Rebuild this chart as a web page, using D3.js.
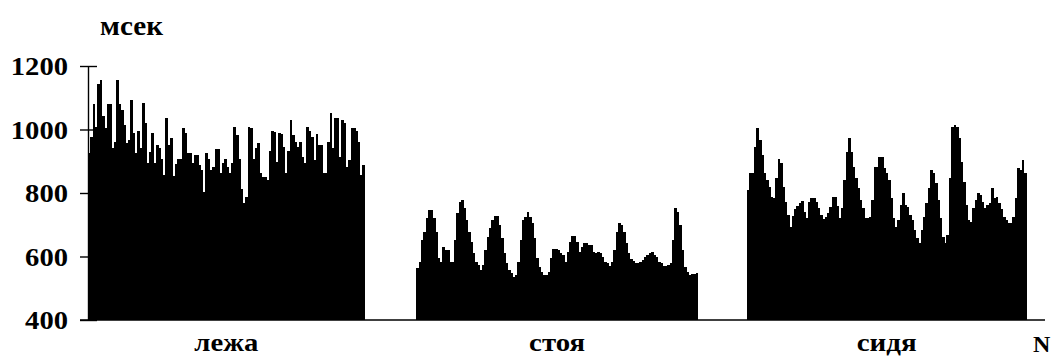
<!DOCTYPE html>
<html>
<head>
<meta charset="utf-8">
<script src="https://cdn.jsdelivr.net/npm/d3@7"></script>
<style>
  html, body { margin: 0; padding: 0; background: #fff; }
  svg { display: block; }
  text { font-family: "Liberation Serif", "Times New Roman", serif; font-weight: bold; fill: #000; }
</style>
</head>
<body>
<svg id="chart" width="1057" height="358"></svg>
<script>
// RR intervals (ms), beat by beat, in three body positions
const lying = [
  925, 977, 1079, 1009, 1142, 1156, 1042, 1004, 1079, 1079,
  941, 962, 1156, 1079, 1061, 1014, 958, 967, 1093, 990,
  925, 996, 941, 1085, 1021, 893, 930, 988, 893, 951,
  941, 906, 857, 1035, 951, 973, 855, 891, 906, 906,
  1004, 990, 927, 927, 893, 920, 920, 888, 872, 804,
  925, 906, 872, 883, 938, 938, 862, 896, 906, 883,
  862, 893, 1009, 983, 906, 812, 767, 788, 1009, 1004,
  906, 941, 958, 862, 849, 849, 841, 932, 996, 993,
  899, 988, 986, 946, 862, 932, 1030, 983, 962, 946,
  962, 914, 893, 1009, 996, 977, 904, 986, 951, 951,
  862, 862, 962, 1053, 941, 1035, 1035, 914, 1030, 1019,
  883, 904, 1004, 1004, 996, 962, 857, 888
];
const standing = [
  563, 584, 652, 678, 720, 746, 746, 720, 678, 594,
  584, 631, 620, 620, 584, 584, 652, 736, 773, 778,
  752, 715, 678, 647, 610, 584, 573, 557, 573, 620,
  662, 689, 715, 728, 728, 699, 657, 610, 578, 557,
  547, 536, 542, 584, 652, 715, 725, 741, 725, 704,
  657, 594, 568, 552, 542, 542, 552, 594, 625, 625,
  620, 610, 604, 584, 615, 647, 665, 665, 647, 615,
  631, 644, 644, 636, 636, 615, 610, 615, 610, 599,
  584, 578, 570, 584, 620, 678, 707, 699, 678, 641,
  610, 591, 586, 580, 580, 584, 589, 597, 604, 610,
  613, 604, 597, 584, 578, 570, 570, 573, 578, 652,
  752, 741, 699, 620, 568, 552, 542, 545, 545, 549
];
const sitting = [
  809, 862, 862, 946, 1004, 967, 920, 862, 841, 820,
  788, 783, 846, 906, 893, 820, 773, 731, 694, 728,
  749, 759, 767, 775, 741, 720, 773, 783, 783, 773,
  752, 731, 717, 725, 736, 757, 786, 786, 759, 720,
  752, 841, 930, 972, 930, 883, 846, 815, 778, 752,
  720, 720, 725, 778, 883, 883, 914, 914, 878, 862,
  841, 783, 720, 694, 715, 762, 799, 762, 757, 731,
  715, 683, 657, 641, 683, 725, 767, 815, 872, 862,
  830, 778, 720, 662, 641, 667, 846, 1009, 1014, 1009,
  972, 899, 836, 762, 715, 710, 752, 778, 799, 794,
  773, 752, 762, 767, 815, 783, 786, 767, 749, 725,
  715, 704, 704, 725, 783, 878, 872, 904, 862
];
const positions = ["лежа", "стоя", "сидя"];
const yTicks = [400, 600, 800, 1000, 1200];
const yUnit = "мсек";
const xUnit = "N";

// empty beat slots between the recordings and after the last one
const gapSlots = [22, 21, 8];

const series = [lying, standing, sitting];
const slots = [];
const groupRanges = [];
series.forEach((vals, g) => {
  const start = slots.length;
  vals.forEach(v => slots.push({ i: slots.length, v }));
  groupRanges.push([start, slots.length - 1]);
  for (let k = 0; k < gapSlots[g]; k++) slots.push({ i: slots.length, v: null });
});

const svg = d3.select("#chart");
const plotLeft = 88, plotRight = 1045, plotTop = 66, plotBottom = 320;

const x = d3.scaleBand()
  .domain(slots.map(d => d.i))
  .range([plotLeft, plotRight])
  .paddingInner(0)
  .paddingOuter(0);

const y = d3.scaleLinear()
  .domain([400, 1200])
  .range([plotBottom, plotTop]);

// y axis with ticks crossing the axis line
const yAxis = svg.append("g")
  .attr("transform", `translate(${plotLeft},0)`)
  .call(d3.axisLeft(y)
    .tickValues(yTicks)
    .tickFormat(d3.format("d"))
    .tickSize(8).tickPadding(12).tickSizeOuter(0));
yAxis.attr("font-family", null).attr("font-size", null);
yAxis.select(".domain").attr("stroke", "#000").attr("stroke-width", 1.4);
yAxis.selectAll(".tick line").attr("stroke", "#000").attr("stroke-width", 1.4);
yAxis.selectAll(".tick").append("line")
  .attr("x1", 0).attr("x2", 9)
  .attr("stroke", "#000").attr("stroke-width", 1.4);
yAxis.selectAll(".tick text")
  .style("font-size", "25px")
  .attr("dy", "0.35em")
  .attr("textLength", d => String(d).length * 14.3)
  .attr("lengthAdjust", "spacingAndGlyphs");

// x axis baseline
svg.append("line")
  .attr("x1", 80).attr("x2", plotRight)
  .attr("y1", y(400)).attr("y2", y(400))
  .attr("stroke", "#000").attr("stroke-width", 1.4);

// bars
svg.append("g")
  .attr("shape-rendering", "crispEdges")
  .selectAll("rect")
  .data(slots.filter(d => d.v !== null))
  .join("rect")
  .attr("x", d => x(d.i))
  .attr("width", x.bandwidth() + 0.4)
  .attr("y", d => y(d.v))
  .attr("height", d => y(400) - y(d.v))
  .attr("fill", "#000");

// unit labels
svg.append("text")
  .attr("x", 100).attr("y", 35)
  .style("font-size", "28px")
  .attr("textLength", 63).attr("lengthAdjust", "spacingAndGlyphs")
  .text(yUnit);

svg.append("text")
  .attr("x", 1033).attr("y", 352)
  .style("font-size", "24px")
  .text(xUnit);

// body position labels centred under each recording
const labelWidths = [64, 56, 60];
svg.append("g").selectAll("text")
  .data(positions)
  .join("text")
  .attr("x", (d, g) => (x(groupRanges[g][0]) + x(groupRanges[g][1]) + x.bandwidth()) / 2 - labelWidths[g] / 2)
  .attr("y", 351)
  .style("font-size", "26px")
  .attr("textLength", (d, g) => labelWidths[g])
  .attr("lengthAdjust", "spacingAndGlyphs")
  .text(d => d);
</script>
</body>
</html>
